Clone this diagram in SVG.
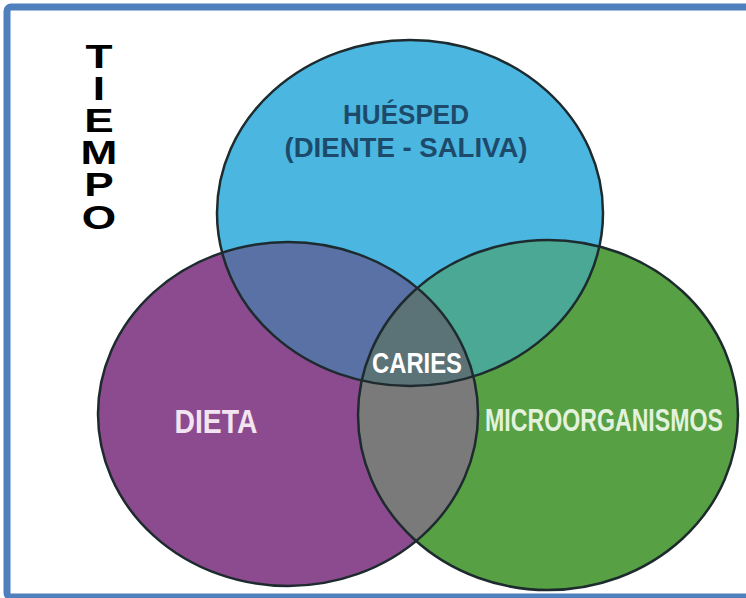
<svg xmlns="http://www.w3.org/2000/svg" width="746" height="598" viewBox="0 0 746 598">
  <defs>
    <style>
      .ring { fill: none; stroke: #1d2b2e; stroke-width: 2.5; }
      .lbl { font-family: "Liberation Sans Narrow", "Liberation Sans", Arial, sans-serif; font-weight: bold; text-anchor: middle; }
      .axis { font-family: "Liberation Sans", Arial, sans-serif; font-weight: bold; font-size: 34px; fill: #000; text-anchor: middle; }
    </style>
    <ellipse id="shapeTop" cx="410" cy="213" rx="193" ry="173"/>
    <ellipse id="shapeLeft" cx="288" cy="414" rx="190" ry="172"/>
    <ellipse id="shapeRight" cx="548" cy="415" rx="190" ry="175"/>
    <clipPath id="clipTop"><use href="#shapeTop"/></clipPath>
    <clipPath id="clipLeft"><use href="#shapeLeft"/></clipPath>
    <clipPath id="clipRight"><use href="#shapeRight"/></clipPath>
  </defs>

  <rect width="746" height="598" fill="#ffffff"/>

  <!-- frame -->
  <rect x="7" y="7" width="800" height="590" rx="4" fill="none" stroke="#4f7fbd" stroke-width="7"/>

  <!-- vertical axis label, letters stacked and widened -->
  <g id="tiempo" transform="translate(99,0) scale(1.3,1) translate(-99,0)">
    <text class="axis" x="99" y="68">T</text>
    <text class="axis" x="99" y="100">I</text>
    <text class="axis" x="99" y="132">E</text>
    <text class="axis" x="99" y="164">M</text>
    <text class="axis" x="99" y="196">P</text>
    <text class="axis" x="99" y="229">O</text>
  </g>

  <!-- base fills -->
  <g id="dieta">
    <use href="#shapeLeft" fill="#8c4a8f"/>
  </g>
  <g id="microorganismos">
    <use href="#shapeRight" fill="#57a044"/>
  </g>
  <g id="huesped">
    <use href="#shapeTop" fill="#4bb6e0"/>
  </g>

  <!-- overlaps -->
  <g id="overlaps">
    <use href="#shapeLeft" fill="#5a71a6" clip-path="url(#clipTop)"/>
    <use href="#shapeRight" fill="#4aa894" clip-path="url(#clipTop)"/>
    <use href="#shapeRight" fill="#7b7a7a" clip-path="url(#clipLeft)"/>
    <g clip-path="url(#clipTop)">
      <use href="#shapeRight" fill="#5b7276" clip-path="url(#clipLeft)"/>
    </g>
  </g>

  <!-- outlines -->
  <g id="outlines">
    <use href="#shapeLeft" class="ring"/>
    <use href="#shapeRight" class="ring"/>
    <use href="#shapeTop" class="ring"/>
  </g>

  <!-- labels -->
  <g id="label-huesped">
    <text class="lbl" x="406" y="124" font-size="27" fill="#1d4a6a" textLength="126" lengthAdjust="spacingAndGlyphs">HUÉSPED</text>
    <text class="lbl" x="406" y="157" font-size="27" fill="#1d4a6a" textLength="243" lengthAdjust="spacingAndGlyphs">(DIENTE - SALIVA)</text>
  </g>
  <g id="label-caries">
    <text class="lbl" x="417" y="373" font-size="29" fill="#ffffff" textLength="90" lengthAdjust="spacingAndGlyphs">CARIES</text>
  </g>
  <g id="label-dieta">
    <text class="lbl" x="216" y="433" font-size="34" fill="#f3e4f2" textLength="83" lengthAdjust="spacingAndGlyphs">DIETA</text>
  </g>
  <g id="label-micro">
    <text class="lbl" x="604" y="431" font-size="32" fill="#e2f2dc" textLength="238" lengthAdjust="spacingAndGlyphs">MICROORGANISMOS</text>
  </g>
</svg>
